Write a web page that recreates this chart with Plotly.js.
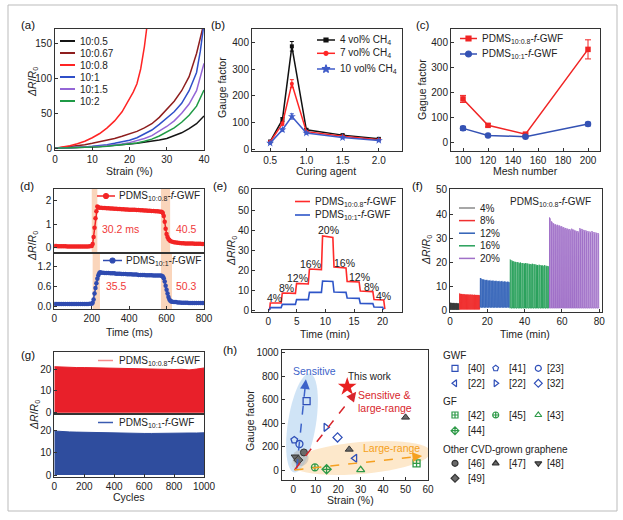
<!DOCTYPE html>
<html><head><meta charset="utf-8">
<script src="https://cdn.plot.ly/plotly-3.0.1.min.js"></script>
<style>html,body{margin:0;padding:0;background:#fff}</style>
</head><body><div id="chart" style="width:623px;height:520px"></div>
<script>
// ---------------- DATA ----------------
// (a) strain curves
const a_labels = ['10:0.5','10:0.67','10:0.8','10:1','10:1.5','10:2'];
const a_x_std = [0,2,4,6,8,10,12,14,16,18,20,22,24,26,28,30,32,34,36,38,40];
const a_y_105 = [0,0.2,0.5,0.9,1.3,1.8,2.4,3.1,3.9,4.8,5.9,7,8.3,9.8,11.8,14,17.5,22,28,35,46];
const a_x_1067 = [0,2,4,6,8,10,12,14,16,18,20,22,24,26,28,30,32,34,36,38,39,39.6];
const a_y_1067 = [0,1,2,3.5,5,7,9,11.5,14,17,20.5,24,29,35,44,55,67,82,102,135,155,170];
const a_x_108 = [0,2,4,6,8,10,12,14,16,18,20,21,22,23,24,24.6];
const a_y_108 = [0,1.5,3.5,6.5,10,15,21,29,39,52,70,80,92,113,145,170];
const a_x_101 = [0,2,4,6,8,10,12,14,16,18,20,22,24,26,28,30,32,34,36,38,39,39.8];
const a_y_101 = [0,0.3,0.7,1.2,1.9,2.7,3.7,5,7,9,11.5,15,20,26,34,43,52,64,82,108,138,170];
const a_y_1015 = [0,0.2,0.5,0.9,1.4,2,2.8,3.7,4.8,6.2,8,10.5,14,18,24,31,39,50,63,82,121];
const a_y_102 = [0,0.2,0.4,0.7,1.1,1.6,2.2,3,3.9,5,6.2,7.5,10,13,17.5,23,29,37,47,60,83];

// (b) gauge factor vs curing agent
const b_x = [0.5,0.67,0.8,1.0,1.5,2.0];
const b_4 = [28,110,385,72,52,38];
const b_4_err = [4,8,18,5,3,3];
const b_7 = [27,95,245,65,48,35];
const b_7_err = [3,6,15,4,3,3];
const b_10 = [22,72,122,60,43,32];
const b_10_err = [3,5,10,4,3,3];

// (c) gauge factor vs mesh number
const c_x = [100,120,150,200];
const c_08 = [175,70,35,372];
const c_08_err = [14,6,4,38];
const c_1 = [58,30,25,75];
const c_1_err = [8,4,4,7];

// (d) response time
const d_t_red = [0,10,20,30,40,50,60,70,80,90,100,110,120,130,140,150,160,170,180,190,200,
 205,210,215,220,225,230,235,
 240,250,260,270,280,290,300,310,320,330,340,350,360,370,380,390,400,410,420,430,440,450,460,470,480,490,500,510,520,530,540,550,560,570,
 575,580,585,590,595,600,605,610,615,620,
 630,640,650,660,670,680,690,700,710,720,730,740,750,760,770,780,790,800];
const d_v_red = [0.07,0.07,0.06,0.06,0.06,0.06,0.06,0.05,0.05,0.05,0.05,0.05,0.05,0.05,0.05,0.05,0.05,0.05,0.05,0.06,0.07,
 0.15,0.45,0.85,1.25,1.55,1.75,1.72,
 1.70,1.70,1.69,1.69,1.68,1.68,1.67,1.67,1.66,1.66,1.65,1.65,1.64,1.64,1.63,1.63,1.62,1.62,1.61,1.61,1.60,1.60,1.59,1.59,1.58,1.58,1.57,1.57,1.56,1.56,1.55,1.55,1.54,1.53,
 1.52,1.48,1.35,1.10,0.80,0.58,0.45,0.37,0.32,0.28,
 0.25,0.23,0.22,0.21,0.20,0.19,0.19,0.18,0.18,0.17,0.17,0.17,0.16,0.16,0.16,0.16,0.15,0.15];
const d_t_blue = [0,10,20,30,40,50,60,70,80,90,100,110,120,130,140,150,160,170,180,190,200,
 205,210,215,220,225,230,235,240,245,
 250,260,270,280,290,300,310,320,330,340,350,360,370,380,390,400,410,420,430,440,450,460,470,480,490,500,510,520,530,540,550,560,570,
 575,580,585,590,595,600,605,610,615,620,625,
 630,640,650,660,670,680,690,700,710,720,730,740,750,760,770,780,790,800];
const d_v_blue = [0.06,0.06,0.06,0.06,0.06,0.06,0.06,0.06,0.06,0.06,0.06,0.06,0.06,0.06,0.06,0.06,0.06,0.06,0.06,0.07,0.07,
 0.10,0.20,0.38,0.55,0.70,0.83,0.93,1.00,1.03,
 1.02,1.02,1.01,1.01,1.01,1.00,1.00,1.00,0.99,0.99,0.99,0.98,0.98,0.98,0.97,0.97,0.97,0.96,0.96,0.96,0.95,0.95,0.95,0.95,0.94,0.94,0.94,0.94,0.93,0.93,0.93,0.93,0.93,
 0.92,0.90,0.85,0.75,0.62,0.50,0.38,0.28,0.20,0.16,0.14,
 0.13,0.12,0.12,0.11,0.11,0.10,0.10,0.10,0.10,0.09,0.09,0.09,0.09,0.09,0.09,0.09,0.09,0.09];

// (e) stepwise strain
const e_t_red = [0,0.25,0.35,2.25,2.45,4.75,4.95,7.0,7.2,9.3,9.5,11.3,11.5,13.6,13.8,15.9,16.1,18.3,18.5,20.2,20.4];
const e_v_red = [0,0.5,3.5,3.5,8.5,8.3,13.3,13.0,20.5,20.2,37.0,36.3,21.5,21.0,14.3,14.0,9.5,9.2,5.2,5.0,0.5];
const e_t_blue = [0,0.25,0.35,2.25,2.45,4.75,4.95,7.0,7.2,9.3,9.5,11.3,11.5,13.6,13.8,15.9,16.1,18.3,18.5,20.0,20.2];
const e_v_blue = [0,0.3,1.2,1.2,2.8,2.8,5.2,5.2,8.8,8.8,14.5,14.3,9.0,8.8,6.0,5.8,3.3,3.2,1.5,1.4,0.2];
const e_labels = ['4%','8%','12%','16%','20%','16%','12%','8%','4%'];
const e_label_t = [1.0,3.1,5.1,7.3,10.6,13.4,15.9,18.1,20.1];
const e_label_v = [5.8,10.8,15.8,22.8,40,23.3,16.3,11.7,7];

// (f) cyclic loading at different strains
const f_names = ['4%','8%','12%','16%','20%'];
const f_start = [0,5,16,32,53];
const f_end = [5,16,32,53,80];
const f_trough = [0.6,0.7,1.5,1.2,1.2];
const f_peaks = [
 [3.4,3.3,3.3,3.2,3.3,3.2,3.2,3.1,3.2,3.1,3.1,3.0],
 [7.2,7.0,7.0,6.9,6.9,6.9,6.8,6.8,6.8,6.8,6.7,6.8,6.7,6.7,6.7,6.6,6.7,6.6,6.6,6.6,6.6,6.5],
 [13.6,13.2,13.0,12.9,12.8,12.7,12.6,12.6,12.5,12.5,12.4,12.4,12.3,12.3,12.3,12.2,12.2,12.1,12.1,12.0],
 [21.2,20.8,20.5,20.3,20.2,20.0,20.0,19.8,19.7,19.8,19.6,19.5,19.4,19.5,19.3,19.2,19.0,19.1,18.9,18.8,18.9,18.7,18.6],
 [38.6,37.0,36.2,35.8,35.6,35.3,35.0,34.6,34.3,34.0,33.8,34.0,33.6,33.2,33.0,34.2,33.9,33.5,33.3,33.0,32.8,33.0,32.6,32.4,32.2]
];

// (g) 1000 cycles envelope
const g_cycles = [0,50,100,150,200,250,300,350,400,450,500,550,600,650,700,750,800,850,900,950,1000];
const g_red_top = [21.2,21.0,20.9,20.8,20.8,20.7,20.6,20.5,20.5,20.4,20.3,20.3,20.2,20.2,20.0,20.0,19.9,20.0,19.7,20.1,20.6];
const g_blue_top = [19.9,19.6,19.5,19.4,19.3,19.3,19.2,19.1,19.0,19.0,18.9,18.8,18.8,18.8,18.9,18.9,18.8,18.9,19.0,19.0,19.1];

// (h) comparison
const h_gwf_x = [5.9,0.4,2.7,27.4,14.5,19.7];
const h_gwf_y = [588,256,222,100,364,278];
const h_gwf_ref = ['[40]','[41]','[23]','[22]','[22]','[32]'];
const h_gf_x = [54.9,9.6,30,14.8];
const h_gf_y = [57,23,2,6];
const h_gf_ref = ['[42]','[45]','[43]','[44]'];
const h_cvd_x = [4.7,24.9,50,0.8,2.2];
const h_cvd_y = [150,176,449,113,85];
const h_cvd_ref = ['[46]','[47]','[47]','[48]','[49]'];
const h_this_x = [24];
const h_this_y = [710];

// ---------------- STYLE / LAYOUT ----------------
const FONT = 'Liberation Sans, Arial, sans-serif';
const W = 623, H = 520;
function dX(a,b){return [a/W,b/W];}
function dY(t,b){return [1-b/H,1-t/H];}
function ax(domain, range, anchor, extra){
  return Object.assign({domain, range, anchor, showline:true, linecolor:'#333', linewidth:1, mirror:true,
    ticks:'inside', ticklen:3, tickwidth:1, tickcolor:'#333',
    tickfont:{size:10,color:'#222',family:FONT}, showgrid:false, zeroline:false, fixedrange:true}, extra||{});
}
const C = {black:'#151515', dred:'#8E1E1E', red:'#FF2424', blue:'#2F4FC8', purple:'#9466D6', green:'#1F9A46'};

const traces = [];
// (a)
const aSeries = [
 [a_x_std,a_y_105,C.black],[a_x_1067,a_y_1067,C.dred],[a_x_108,a_y_108,C.red],
 [a_x_101,a_y_101,C.blue],[a_x_std,a_y_1015,C.purple],[a_x_std,a_y_102,C.green]];
aSeries.forEach((s,i)=>traces.push({x:s[0],y:s[1],name:a_labels[i],mode:'lines',line:{color:s[2],width:1.5},xaxis:'x',yaxis:'y'}));
// (b)
[[b_4,b_4_err,'#111','square',4],[b_7,b_7_err,'#FF2626','circle',4],[b_10,b_10_err,'#3F5BC8','star',6]].forEach(s=>{
  traces.push({x:b_x,y:s[0],mode:'lines+markers',line:{color:s[2],width:1.5},marker:{symbol:s[3],size:s[4],color:s[2]},
    error_y:{type:'data',array:s[1],color:s[2],thickness:1,width:2},xaxis:'x2',yaxis:'y2'});
});
// (c)
traces.push({x:c_x,y:c_08,mode:'lines+markers',line:{color:'#F02424',width:1.5},marker:{symbol:'square',size:5.5,color:'#F02424'},
  error_y:{type:'data',array:c_08_err,color:'#F02424',thickness:1,width:3},xaxis:'x3',yaxis:'y3'});
traces.push({x:c_x,y:c_1,mode:'lines+markers',line:{color:'#3452B4',width:1.5},marker:{symbol:'circle',size:6.5,color:'#3452B4'},
  error_y:{type:'data',array:c_1_err,color:'#3452B4',thickness:1,width:3},xaxis:'x3',yaxis:'y3'});
// (d)
traces.push({x:d_t_red,y:d_v_red,mode:'lines+markers',line:{color:'#F22424',width:1.5},marker:{symbol:'circle',size:4.5,color:'#F22424'},xaxis:'x4',yaxis:'y4'});
traces.push({x:d_t_blue,y:d_v_blue,mode:'lines+markers',line:{color:'#2F4BB0',width:1.5},marker:{symbol:'circle',size:4.5,color:'#2F4BB0'},xaxis:'x5',yaxis:'y5'});
// (e)
traces.push({x:e_t_red,y:e_v_red,mode:'lines',line:{color:'#FF2A2A',width:1.6},xaxis:'x6',yaxis:'y6'});
traces.push({x:e_t_blue,y:e_v_blue,mode:'lines',line:{color:'#2E55C8',width:1.6},xaxis:'x6',yaxis:'y6'});
// (f)
const f_colors = ['#3A3A3A','#F03030','#2E5FB6','#27A05A','#A070C8'];
f_peaks.forEach((pk,s)=>{
  const xs=[],ys=[]; const per=(f_end[s]-f_start[s])/pk.length; const tr=f_trough[s];
  xs.push(f_start[s]); ys.push(tr);
  pk.forEach((p,i)=>{
    const t=f_start[s]+(i+0.5)*per;
    xs.push(t-0.22*per,t-0.17*per,t+0.17*per,t+0.22*per);
    ys.push(tr,p,p*0.985,tr);
  });
  xs.push(f_end[s]); ys.push(tr);
  traces.push({x:xs,y:ys,mode:'lines',line:{color:f_colors[s],width:1},xaxis:'x7',yaxis:'y7',name:f_names[s]});
});
// (g)
traces.push({x:g_cycles,y:g_red_top,mode:'lines',line:{color:'#E8202A',width:1},fill:'tozeroy',fillcolor:'#E8202A',xaxis:'x8',yaxis:'y8'});
traces.push({x:g_cycles,y:g_blue_top,mode:'lines',line:{color:'#2F4D9E',width:1},fill:'tozeroy',fillcolor:'#2F4D9E',xaxis:'x9',yaxis:'y9'});
// (h)
const GWF_C='#2F4FB8', GF_C='#2E9A48', CVD_C='#555';
const gwfSym=['square-open','pentagon-open','circle-open','triangle-left-open','triangle-right-open','diamond-open'];
const gfSym=['square-cross-open','circle-cross-open','triangle-up-open','diamond-cross-open'];
const cvdSym=['circle','triangle-up','triangle-up','triangle-down','diamond'];
traces.push({x:h_gwf_x,y:h_gwf_y,text:h_gwf_ref,mode:'markers',marker:{symbol:gwfSym,size:7,color:GWF_C,line:{width:1.3,color:GWF_C}},xaxis:'x10',yaxis:'y10'});
traces.push({x:h_gf_x,y:h_gf_y,text:h_gf_ref,mode:'markers',marker:{symbol:gfSym,size:7,color:GF_C,line:{width:1.3,color:GF_C}},xaxis:'x10',yaxis:'y10'});
traces.push({x:h_cvd_x,y:h_cvd_y,text:h_cvd_ref,mode:'markers',marker:{symbol:cvdSym,size:7,color:'#6a6a6a',line:{width:1,color:'#333'}},xaxis:'x10',yaxis:'y10'});
traces.push({x:h_this_x,y:h_this_y,mode:'markers',marker:{symbol:'star',size:14,color:'#E82020'},xaxis:'x10',yaxis:'y10'});

// ---------------- axes ----------------
const layout = {
  width:W, height:H, margin:{l:0,r:0,t:0,b:0}, paper_bgcolor:'#fff', plot_bgcolor:'rgba(0,0,0,0)',
  showlegend:false, font:{family:FONT,color:'#222',size:10},
  xaxis: ax(dX(55,204),[0,40],'y',{dtick:10,tick0:0}),
  yaxis: ax(dY(29,150),[-2.5,170],'x',{dtick:50,tick0:0}),
  xaxis2: ax(dX(252,402),[0.25,2.32],'y2',{tickvals:[0.5,1,1.5,2],ticktext:['0.5','1.0','1.5','2.0']}),
  yaxis2: ax(dY(29,151),[-7.5,450],'x2',{dtick:100,tick0:0}),
  xaxis3: ax(dX(451,600),[90.4,209.6],'y3',{dtick:20,tick0:100}),
  yaxis3: ax(dY(29,151),[-32,453],'x3',{dtick:100,tick0:0}),
  xaxis4: ax(dX(54.3,204),[0,800],'y4',{showticklabels:false,ticks:''}),
  yaxis4: ax(dY(189,253),[-0.23,2.5],'x4',{tickvals:[0,1,2]}),
  xaxis5: ax(dX(54.3,204),[0,800],'y5',{dtick:200,tick0:0}),
  yaxis5: ax(dY(253,309),[-0.09,1.62],'x5',{tickvals:[0,0.6,1.2],ticktext:['0.0','0.6','1.2']}),
  xaxis6: ax(dX(252,402),[-2.85,23.4],'y6',{dtick:5,tick0:0}),
  yaxis6: ax(dY(189,312),[-1,60.5],'x6',{dtick:10,tick0:0}),
  xaxis7: ax(dX(450,601.7),[0,81.3],'y7',{dtick:20,tick0:0}),
  yaxis7: ax(dY(189,311.7),[-0.3,50.4],'x7',{dtick:10,tick0:0}),
  xaxis8: ax(dX(54.3,204),[0,1000],'y8',{showticklabels:false,ticks:''}),
  yaxis8: ax(dY(351.7,414),[-0.6,28.1],'x8',{tickvals:[0,10,20]}),
  xaxis9: ax(dX(54.3,204),[0,1000],'y9',{dtick:200,tick0:0}),
  yaxis9: ax(dY(414,476.7),[-0.77,27.6],'x9',{tickvals:[0,10,20]}),
  xaxis10: ax(dX(281.7,428),[-5.2,60],'y10',{dtick:10,tick0:0}),
  yaxis10: ax(dY(350,480),[-85,1023],'x10',{dtick:200,tick0:0}),
  xaxis11: {domain:[0,1],range:[0,W],anchor:'y11',visible:false,fixedrange:true},
  yaxis11: {domain:[0,1],range:[H,0],anchor:'x11',visible:false,fixedrange:true},
  shapes:[], annotations:[]
};
const S = layout.shapes, A = layout.annotations;
// figure border
S.push({type:'rect',xref:'x11',yref:'y11',x0:8,y0:5,x1:617,y1:511,line:{color:'#BBBBBB',width:1}});

function txt(x,y,text,opt){
  A.push(Object.assign({xref:'x11',yref:'y11',x,y,text,showarrow:false,xanchor:'center',yanchor:'middle',
    font:{size:10,color:'#222',family:FONT}},opt||{}));
}
function legLine(x0,x1,y,color,width,symbol,msize,text,tx){
  S.push({type:'line',xref:'x11',yref:'y11',x0,x1,y0:y,y1:y,line:{color,width}});
  if(symbol){
    traces.push({x:[(x0+x1)/2],y:[y],mode:'markers',marker:{symbol,size:msize,color,line:{color,width:1.2}},xaxis:'x11',yaxis:'y11',hoverinfo:'skip'});
  }
  txt(tx,y,text,{xanchor:'left'});
}
function legMark(x,y,symbol,color,text,tx,fill){
  traces.push({x:[x],y:[y],mode:'markers',marker:{symbol,size:6,color:fill||color,line:{color,width:1.2}},xaxis:'x11',yaxis:'y11',hoverinfo:'skip'});
  txt(tx,y,text,{xanchor:'left'});
}

// panel labels
[['(a)',28,25],['(b)',218,25],['(c)',423,25],['(d)',27,186],['(e)',220,186],['(f)',417,186],['(g)',28,355],['(h)',230,350]]
  .forEach(p=>txt(p[1],p[2],p[0],{font:{size:11.5,color:'#111',family:FONT}}));

// axis titles
const RR = '<i>ΔR</i>/<i>R</i><sub>0</sub>';
const TF = {size:10.5,color:'#222',family:FONT};
[['Strain (%)',129.5,170.5],['Curing agent',326,170.5],['Mesh number',525,170.5],['Time (ms)',129,331.5],
 ['Time (min)',325,333.5],['Time (min)',525,333.5],['Cycles',129,497],['Strain (%)',350,499.5]]
 .forEach(p=>txt(p[1],p[2],p[0],{font:TF}));
[[RR,33,82],['Gauge factor',222,88],['Gague factor',422,90],[RR,33,246],[RR,232,251],[RR,427,250],[RR,35,415],['Gauge factor',250,421]]
 .forEach(p=>txt(p[1],p[2],p[0],{textangle:-90,font:TF}));

// (a) legend
const aCols=[C.black,C.dred,C.red,C.blue,C.purple,C.green];
a_labels.forEach((l,i)=>legLine(60,75,41+12*i,aCols[i],2,null,0,l,78));
// (b) legend
legLine(317,335,40,'#111',1.5,'square',4,'4 vol% CH<sub>4</sub>',338);
legLine(317,335,53.3,'#FF2626',1.5,'circle',4,'7 vol% CH<sub>4</sub>',338);
legLine(317,335,69,'#3F5BC8',1.5,'star',6,'10 vol% CH<sub>4</sub>',338);
// (c) legend
const P08='PDMS<sub>10:0.8</sub>-<i>f</i>-GWF', P1='PDMS<sub>10:1</sub>-<i>f</i>-GWF';
legLine(460,477,38.5,'#F02424',1.5,'square',5,P08,480);
legLine(460,477,54,'#3452B4',1.5,'circle',6,P1,480);
// (d)
S.push({type:'rect',xref:'x4',yref:'y4 domain',x0:200,x1:230,y0:0,y1:1,fillcolor:'#F8C7A4',opacity:0.75,line:{width:0},layer:'below'});
S.push({type:'rect',xref:'x4',yref:'y4 domain',x0:570,x1:619,y0:0,y1:1,fillcolor:'#F8C7A4',opacity:0.75,line:{width:0},layer:'below'});
S.push({type:'rect',xref:'x5',yref:'y5 domain',x0:205,x1:244,y0:0,y1:1,fillcolor:'#F8C7A4',opacity:0.75,line:{width:0},layer:'below'});
S.push({type:'rect',xref:'x5',yref:'y5 domain',x0:570,x1:629,y0:0,y1:1,fillcolor:'#F8C7A4',opacity:0.75,line:{width:0},layer:'below'});
legLine(97,115,196,'#F22424',1.5,'circle',5,P08,117);
legLine(103,122,260.5,'#2F4BB0',1.5,'circle',5,P1,124);
const RC={size:10.5,color:'#F03A3A',family:FONT};
txt(100,228.5,'30.2 ms',{xanchor:'left',font:RC});
txt(173.5,228.5,'40.5',{xanchor:'left',font:RC});
txt(104,286,'35.5',{xanchor:'left',font:RC});
txt(173.5,286,'50.3',{xanchor:'left',font:RC});
// (e)
legLine(295,310,201.5,'#FF2A2A',1.6,null,0,P08,313);
legLine(295,310,215,'#2E55C8',1.6,null,0,P1,313);
e_labels.forEach((l,i)=>A.push({xref:'x6',yref:'y6',x:e_label_t[i],y:e_label_v[i],text:l,showarrow:false,font:{size:10.5,color:'#222',family:FONT}}));
// (f)
const fLeg=['#8A8A8A','#F03030','#2E5FB6','#27A05A','#A070C8'];
f_names.forEach((n,i)=>legLine(459,475,208+12.6*i,fLeg[i],1.5,null,0,n,478));
txt(550,201.5,P08);
// (g)
legLine(98,113,360.5,'#F58C8C',1.5,null,0,P08,117);
legLine(98,113,422.5,'#3A5BB0',1.5,null,0,P1,117);

// (h) ellipses and arrows
const HX=[281.7,428], HY=[350,480], hxr=[-5.2,60], hyr=[-85,1023];
const toX=px=>hxr[0]+(px-HX[0])/(HX[1]-HX[0])*(hxr[1]-hxr[0]);
const toY=py=>hyr[0]+(HY[1]-py)/(HY[1]-HY[0])*(hyr[1]-hyr[0]);
function ellipse(cx,cy,rx,ry,deg,fill){
  const r=deg*Math.PI/180; let p='';
  for(let k=0;k<=48;k++){const a=2*Math.PI*k/48; const ex=rx*Math.cos(a), ey=ry*Math.sin(a);
    const px=cx+ex*Math.cos(r)-ey*Math.sin(r), py=cy+ex*Math.sin(r)+ey*Math.cos(r);
    p+=(k?'L':'M')+toX(px).toFixed(3)+','+toY(py).toFixed(2);}
  S.push({type:'path',xref:'x10',yref:'y10',path:p+'Z',fillcolor:fill,line:{width:0},layer:'below'});
}
ellipse(361,458,70,16,-5,'rgba(252,214,160,0.55)');
ellipse(302,423,14,50,9,'rgba(170,205,238,0.55)');
ellipse(300.5,458,8,8,0,'rgba(170,170,170,0.45)');
function darrow(x0,y0,x1,y1,color){
  S.push({type:'line',xref:'x10',yref:'y10',x0,y0,x1:x0+(x1-x0)*0.96,y1:y0+(y1-y0)*0.96,line:{color,width:1.5,dash:'dash'}});
  A.push({xref:'x10',yref:'y10',axref:'x10',ayref:'y10',x:x1,y:y1,ax:x0+(x1-x0)*0.93,ay:y0+(y1-y0)*0.93,text:'',showarrow:true,arrowhead:2,arrowsize:1.3,arrowwidth:1.5,arrowcolor:color});
}
darrow(1.5,14,5.6,773,'#3D63C9');
darrow(0.5,0,28,667,'#D8262C');
darrow(0.5,0,57.4,120,'#F5A020');
const HF=(c)=>({size:10.5,color:c,family:FONT});
A.push({xref:'x10',yref:'y10',x:9.3,y:847,text:'Sensitive',showarrow:false,font:HF('#3D63C9')});
A.push({xref:'x10',yref:'y10',x:34.3,y:801,text:'This work',showarrow:false,font:{size:10,color:'#222',family:FONT}});
A.push({xref:'x10',yref:'y10',x:40.8,y:639,text:'Sensitive &amp;',showarrow:false,font:HF('#D8262C')});
A.push({xref:'x10',yref:'y10',x:41,y:526,text:'large-range',showarrow:false,font:HF('#D8262C')});
A.push({xref:'x10',yref:'y10',x:43.6,y:185,text:'Large-range',showarrow:false,font:HF('#F5A020')});

// (h) legend
txt(441,355,'GWF',{xanchor:'left'});
legMark(455,368.3,'square-open',GWF_C,'[40]',465.7);
legMark(495.7,368.3,'pentagon-open',GWF_C,'[41]',506.7);
legMark(538.3,368.3,'circle-open',GWF_C,'[23]',545);
legMark(455,383.3,'triangle-left-open',GWF_C,'[22]',465.7);
legMark(495.7,383.3,'triangle-right-open',GWF_C,'[22]',506.7);
legMark(538.3,383.3,'diamond-open',GWF_C,'[32]',545);
txt(441,401.7,'GF',{xanchor:'left'});
legMark(455,415,'square-cross-open',GF_C,'[42]',465.7);
legMark(495.7,415,'circle-cross-open',GF_C,'[45]',506.7);
legMark(538.3,415,'triangle-up-open',GF_C,'[43]',545);
legMark(455,430.7,'diamond-cross-open',GF_C,'[44]',465.7);
txt(441,449.3,'Other CVD-grown graphene',{xanchor:'left'});
legMark(455,463.3,'circle','#333','[46]',465.7,'#6a6a6a');
legMark(495.7,463.3,'triangle-up','#333','[47]',506.7,'#6a6a6a');
legMark(538.3,463.3,'triangle-down','#333','[48]',545,'#6a6a6a');
legMark(455,478.3,'diamond','#333','[49]',465.7,'#6a6a6a');

Plotly.newPlot('chart',traces,layout,{displayModeBar:false,staticPlot:true});
</script></body></html>
